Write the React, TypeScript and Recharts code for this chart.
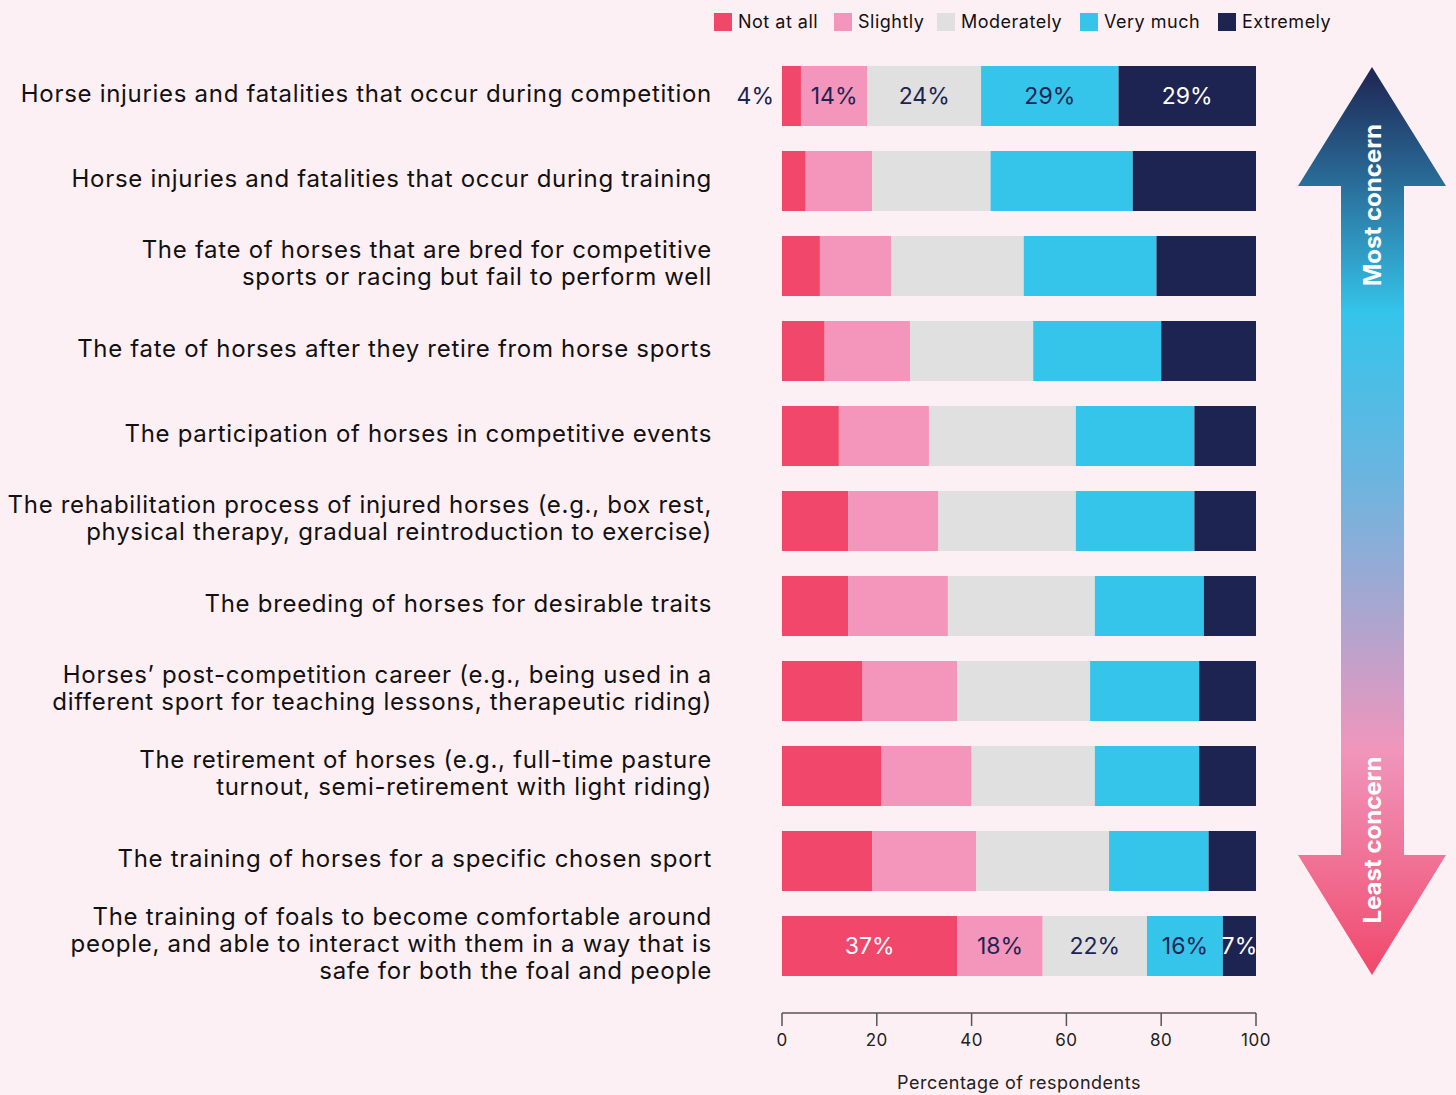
import React from "react";
import { BarChart, Bar, XAxis, YAxis, Legend, LabelList } from "recharts";

const categories: string[] = [
  "Horse injuries and fatalities that occur during competition",
  "Horse injuries and fatalities that occur during training",
  "The fate of horses that are bred for competitive\nsports or racing but fail to perform well",
  "The fate of horses after they retire from horse sports",
  "The participation of horses in competitive events",
  "The rehabilitation process of injured horses (e.g., box rest,\nphysical therapy, gradual reintroduction to exercise)",
  "The breeding of horses for desirable traits",
  "Horses\u2019 post-competition career (e.g., being used in a\ndifferent sport for teaching lessons, therapeutic riding)",
  "The retirement of horses (e.g., full-time pasture\nturnout, semi-retirement with light riding)",
  "The training of horses for a specific chosen sport",
  "The training of foals to become comfortable around\npeople, and able to interact with them in a way that is\nsafe for both the foal and people",
];

const notAtAll = [4, 5, 8, 9, 12, 14, 14, 17, 21, 19, 37];
const slightly = [14, 14, 15, 18, 19, 19, 21, 20, 19, 22, 18];
const moderately = [24, 25, 28, 26, 31, 29, 31, 28, 26, 28, 22];
const veryMuch = [29, 30, 28, 27, 25, 25, 23, 23, 22, 21, 16];
const extremely = [29, 26, 21, 20, 13, 13, 11, 12, 12, 10, 7];

const xTicks = [0, 20, 40, 60, 80, 100];
const labelledRows = [0, 10];

const seriesNames = ["Not at all", "Slightly", "Moderately", "Very much", "Extremely"];
const seriesKeys = ["notAtAll", "slightly", "moderately", "veryMuch", "extremely"];
const seriesColors = ["#F0476B", "#F495BB", "#E0E0E0", "#35C4EA", "#1E2452"];
const labelColors = ["#FFFFFF", "#1E2452", "#1E2452", "#1E2452", "#FFFFFF"];

const data = categories.map((label, i) => ({
  label,
  notAtAll: notAtAll[i],
  slightly: slightly[i],
  moderately: moderately[i],
  veryMuch: veryMuch[i],
  extremely: extremely[i],
}));

const FONT = "Inter, 'Open Sans', sans-serif";
const BG = "#FDF0F4";

const YTick = (props: any) => {
  const { x, y, payload } = props;
  const lines = String(payload.value).split("\n");
  const lh = 27;
  const start = -((lines.length - 1) * lh) / 2 - 3;
  return (
    <text
      x={x}
      y={y}
      textAnchor="end"
      fill="#111111"
      fontSize={24}
      letterSpacing={0.7}
      fontFamily={FONT}
      dominantBaseline="central"
    >
      {lines.map((l, i) => (
        <tspan key={i} x={x} dy={i === 0 ? start : lh}>
          {l}
        </tspan>
      ))}
    </text>
  );
};

const makeLabel = (si: number) => (props: any) => {
  const { x, y, width, height, value, index } = props;
  if (!labelledRows.includes(index)) return null;
  const outside = si === 0 && width < 30;
  const tx = outside ? x - 8 : x + width / 2;
  return (
    <text
      x={tx}
      y={y + height / 2}
      textAnchor={outside ? "end" : "middle"}
      dominantBaseline="central"
      fill={outside ? "#1E2452" : labelColors[si]}
      fontSize={23}
      fontFamily={FONT}
    >
      {value}%
    </text>
  );
};

const LegendContent = () => {
  const xs = [714, 834, 937, 1080, 1218];
  return (
    <div style={{ position: "relative", width: 740, height: 30 }}>
      {seriesNames.map((n, i) => (
        <div
          key={n}
          style={{
            position: "absolute",
            left: xs[i] - 714,
            top: 0,
            display: "flex",
            alignItems: "center",
            fontFamily: FONT,
            fontSize: 18,
            letterSpacing: 0.5,
            color: "#111",
            whiteSpace: "nowrap",
          }}
        >
          <span
            style={{
              display: "inline-block",
              width: 18,
              height: 18,
              background: seriesColors[i],
              marginRight: 6,
            }}
          />
          {n}
        </div>
      ))}
    </div>
  );
};

const Arrow = () => (
  <svg
    width={1456}
    height={1095}
    style={{ position: "absolute", left: 0, top: 0, pointerEvents: "none" }}
  >
    <defs>
      <linearGradient id="arrowGrad" x1="0" y1="67" x2="0" y2="975" gradientUnits="userSpaceOnUse">
        <stop offset="0" stopColor="#1E2452" />
        <stop offset="0.13" stopColor="#2A6E9A" />
        <stop offset="0.27" stopColor="#35C4EA" />
        <stop offset="0.45" stopColor="#6AB5E0" />
        <stop offset="0.6" stopColor="#A9A6D0" />
        <stop offset="0.75" stopColor="#F096BC" />
        <stop offset="0.9" stopColor="#F06A8E" />
        <stop offset="1" stopColor="#F0476B" />
      </linearGradient>
    </defs>
    <polygon
      points="1372,67 1446,186 1404,186 1404,855 1446,855 1372,975 1298,855 1341,855 1341,186 1298,186"
      fill="url(#arrowGrad)"
    />
    <text
      x={1372}
      y={205}
      transform="rotate(-90 1372 205)"
      textAnchor="middle"
      dominantBaseline="central"
      fill="#FFFFFF"
      fontWeight={700}
      fontSize={24}
      fontFamily={FONT}
    >
      Most concern
    </text>
    <text
      x={1372}
      y={840}
      transform="rotate(-90 1372 840)"
      textAnchor="middle"
      dominantBaseline="central"
      fill="#FFFFFF"
      fontWeight={700}
      fontSize={24}
      fontFamily={FONT}
    >
      Least concern
    </text>
  </svg>
);

export default function App() {
  return (
    <div
      style={{
        position: "absolute",
        left: 0,
        top: 0,
        width: 1456,
        height: 1095,
        background: BG,
        fontFamily: FONT,
      }}
    >
      <BarChart
        width={1456}
        height={1095}
        data={data}
        layout="vertical"
        margin={{ top: 53, right: 200, bottom: 0, left: 0 }}
        barSize={60}
      >
        <XAxis
          type="number"
          domain={[0, 100]}
          ticks={xTicks}
          height={82}
          tickSize={13}
          tickMargin={8}
          axisLine={{ stroke: "#555555", strokeWidth: 1.5 }}
          tickLine={{ stroke: "#555555", strokeWidth: 1.5 }}
          tick={{ fill: "#222222", fontSize: 17, fontFamily: FONT, letterSpacing: 0.5 }}
          label={{
            value: "Percentage of respondents",
            position: "insideBottom",
            offset: 6,
            fill: "#222222",
            fontSize: 18,
            fontFamily: FONT,
            letterSpacing: 0.5,
          }}
        />
        <YAxis
          type="category"
          dataKey="label"
          width={782}
          axisLine={false}
          tickLine={false}
          tickSize={0}
          tickMargin={70}
          padding={{ top: 0, bottom: 25 }}
          tick={<YTick />}
          interval={0}
        />
        <Legend
          layout="horizontal"
          verticalAlign="middle"
          align="center"
          wrapperStyle={{ position: "absolute", top: 11, left: 714, width: 740 }}
          content={<LegendContent />}
        />
        {seriesKeys.map((k, i) => (
          <Bar
            key={k}
            dataKey={k}
            name={seriesNames[i]}
            stackId="a"
            fill={seriesColors[i]}
            isAnimationActive={false}
          >
            <LabelList dataKey={k} content={makeLabel(i)} />
          </Bar>
        ))}
      </BarChart>
      <Arrow />
    </div>
  );
}
